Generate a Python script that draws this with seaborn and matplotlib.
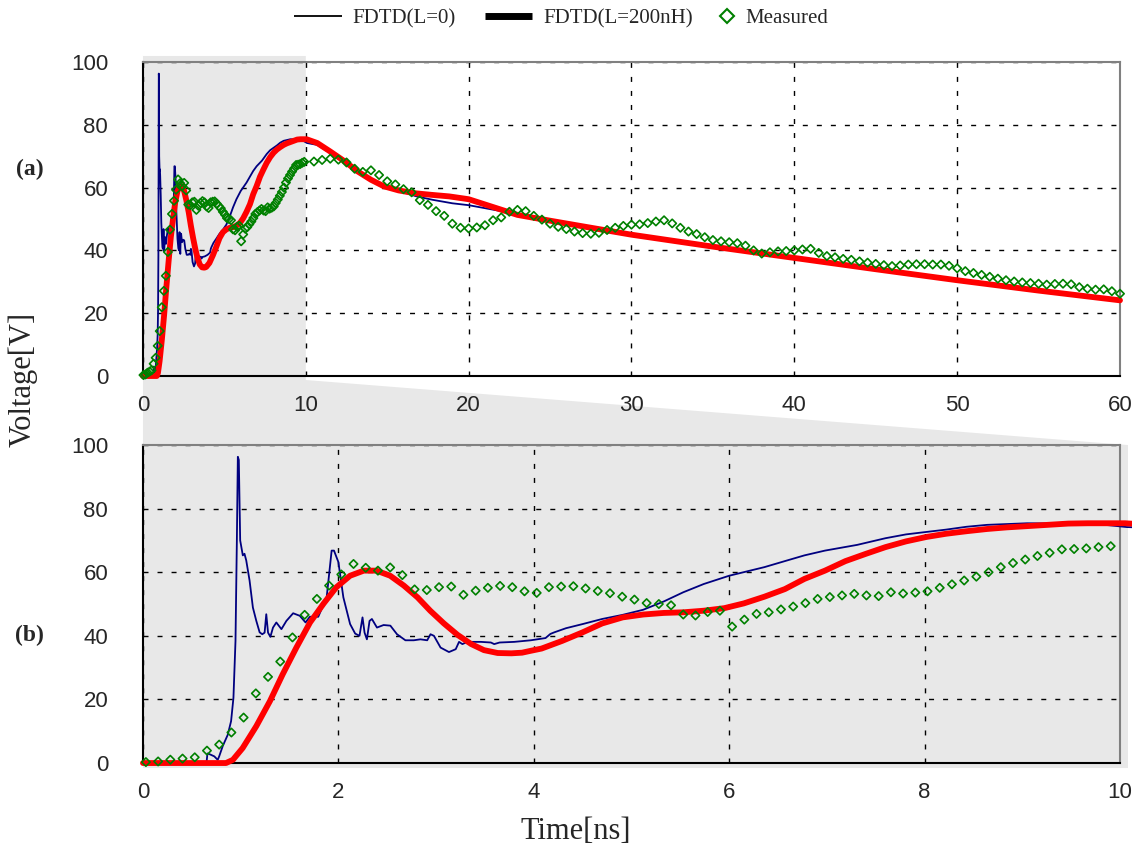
import numpy as np
import pandas as pd
import matplotlib
matplotlib.use("Agg")
import matplotlib.pyplot as plt
from matplotlib.patches import Polygon
from matplotlib.lines import Line2D
import seaborn as sns

# FDTD, L = 0 (thin navy line): time [ns], voltage [V]
fdtd0_t = [0, 0.65, 0.66, 0.68, 0.73, 0.765, 0.78, 0.816, 0.868, 0.902, 0.926, 0.947,
           0.961, 0.971, 0.981, 0.995, 1.022, 1.039, 1.057, 1.091, 1.125, 1.16, 1.194,
           1.221, 1.245, 1.262, 1.28, 1.304, 1.331, 1.365, 1.417, 1.468, 1.537, 1.605,
           1.664, 1.708, 1.794, 1.88, 1.931, 1.955, 2.0, 2.051, 2.12, 2.172, 2.216,
           2.247, 2.268, 2.292, 2.319, 2.343, 2.395, 2.463, 2.532, 2.6, 2.686, 2.772,
           2.84, 2.909, 2.943, 2.978, 3.046, 3.132, 3.201, 3.235, 3.269, 3.321, 3.458,
           3.561, 3.595, 3.65, 3.8, 3.97, 4.12, 4.17, 4.21, 4.33, 4.5, 4.7, 4.91, 5.12,
           5.33, 5.53, 5.74, 6.0, 6.36, 6.57, 6.77, 6.98, 7.31, 7.6, 7.81, 8.0, 8.22,
           8.43, 8.64, 9.05, 9.47, 9.67, 9.88, 10.07, 10.7, 11.5, 12.4, 13.6, 14.8,
           15.7, 16.8, 17.8, 19, 20, 22, 24.4, 27, 30, 35, 40, 45, 50, 55, 60]
fdtd0_v = [0, 0, 3.0, 2.8, 2.1, 1.0, 2.1, 5.3, 8.9, 13.2, 20.5, 38.4,
           70, 96.3, 95.3, 70, 65.3, 65.8, 63.7, 57.4, 48.9, 44.7, 41.1,
           40.5, 41.0, 46.8, 41.0, 39.7, 42.6, 44.2, 42.1, 44.7, 47.1, 46.3,
           44.2, 46.0, 46.0, 52.1, 66.8, 66.8, 63.2, 52.1, 43.7, 40.7, 40.0,
           45.8, 41.0, 38.9, 44.7, 45.3, 42.6, 43.4, 43.2, 40.5, 38.6, 38.6,
           38.9, 38.6, 40.5, 40.0, 36.3, 34.9, 35.8, 38.1, 37.4, 38.1, 38.1,
           37.9, 37.4, 37.9, 38.1, 38.6, 39.3, 40.6, 41.1, 42.4, 43.7, 45.3, 46.6, 48.2,
           50.8, 53.7, 56.3, 58.9, 61.6, 63.5, 65.3, 66.8, 68.6, 70.7, 71.9, 72.6, 73.4,
           74.3, 74.9, 75.4, 75.3, 75.2, 74.8, 74.2, 73.6, 71.0, 67.8, 63.5, 60.4,
           59.0, 57.2, 56.1, 55.0, 54.4, 52.5, 50.5, 47.7, 45.0, 41.0, 37.6, 34.0, 30.5, 27.2, 24.1]

# FDTD, L = 200 nH (thick red line)
fdtd200_t = [0, 0.85, 0.92, 1.02, 1.16, 1.30, 1.43, 1.57, 1.71, 1.85, 1.98, 2.12, 2.26,
             2.39, 2.53, 2.67, 2.81, 2.94, 3.08, 3.22, 3.36, 3.49, 3.63, 3.77, 3.88,
             3.97, 4.08, 4.29, 4.50, 4.70, 4.91, 5.12, 5.33, 5.53, 5.74, 5.95, 6.15,
             6.36, 6.57, 6.77, 6.98, 7.19, 7.40, 7.60, 7.81, 8.02, 8.22, 8.43, 8.64,
             8.84, 9.05, 9.26, 9.47, 9.67, 9.88, 10.05, 10.7, 11.5, 12.4, 13.2, 14.0,
             14.8, 15.7, 16.7, 17.7, 18.8, 20, 21.5, 23.0, 24.4, 27.3, 30, 35, 40, 45,
             50, 55, 60]
fdtd200_v = [0, 0, 1.0, 4.7, 11.6, 19.5, 27.9, 36.3, 44.2, 50.2, 55.3, 58.9, 60.5,
             60.5, 58.9, 55.8, 52.1, 47.9, 43.9, 40.3, 37.4, 35.5, 34.6, 34.5, 34.7,
             35.3, 36.0, 38.4, 41.1, 43.9, 45.8, 46.7, 47.2, 47.4, 47.9, 48.7, 50.2,
             52.3, 54.7, 57.9, 60.5, 63.5, 65.8, 67.9, 69.7, 71.1, 72.1, 72.9, 73.6,
             74.1, 74.5, 74.9, 75.3, 75.4, 75.4, 75.4, 74.2, 71.5, 68.3, 65.1, 62.5,
             60.4, 59.1, 58.2, 57.7, 57.2, 56.3, 53.8, 51.3, 50.0, 47.4, 45.0, 41.2, 37.6, 34.0,
             30.5, 27.2, 24.1]

# Measured: 0.125 ns samples up to 10 ns, 0.5 ns samples after
meas_fine_v = [0.3, 0.5, 1.05, 1.4, 1.8, 3.9, 5.8, 9.6, 14.3, 21.9,
               27.1, 31.9, 39.5, 46.6, 51.6, 55.8, 59.3, 62.6, 61.4, 60.5,
               61.5, 59.1, 54.6, 54.4, 55.3, 55.5, 52.9, 54.2, 55.1, 55.7,
               55.3, 54.0, 53.5, 55.3, 55.5, 55.6, 54.9, 54.1, 53.4, 52.3,
               51.4, 50.3, 50.0, 49.6, 46.7, 46.4, 47.5, 47.9, 42.9, 45.1,
               46.9, 47.4, 48.3, 49.2, 50.3, 51.6, 52.2, 52.7, 53.2, 52.7,
               52.5, 53.7, 53.3, 53.6, 54.0, 55.1, 56.2, 57.4, 58.6, 60.0,
               61.6, 62.9, 64.0, 65.1, 66.1, 67.2, 67.3, 67.5, 67.9, 68.2]
meas_coarse_v = [68.3, 68.8, 69.2, 68.9, 68.0, 66.0, 65.0, 65.5, 64.0,
                 62.0, 61.0, 59.5, 58.5, 56.0, 54.5, 52.5, 51.0, 48.5, 47.2,
                 47.0, 47.3, 48.0, 49.6, 50.5, 52.3, 52.9, 52.5, 51.0, 49.8,
                 48.5, 47.5, 46.8, 46.0, 45.5, 45.3, 45.6, 46.5, 47.2, 47.8,
                 48.2, 48.3, 48.7, 49.2, 49.6, 48.6, 47.2, 46.0, 45.2, 44.2,
                 43.3, 42.9, 42.6, 42.3, 41.5, 40.0, 39.0, 39.4, 39.7, 39.8,
                 40.0, 40.3, 40.5, 39.2, 38.2, 37.8, 37.3, 37.0, 36.5, 36.1,
                 35.7, 35.3, 35.0, 35.2, 35.5, 35.6, 35.6, 35.5, 35.5, 35.1,
                 34.3, 33.4, 32.8, 32.2, 31.6, 31.0, 30.5, 30.1, 29.8, 29.6,
                 29.4, 29.1, 29.3, 29.4, 29.2, 28.3, 27.8, 27.5, 27.6, 27.0, 26.2]
meas_t = np.concatenate([0.03 + 0.125 * np.arange(len(meas_fine_v)),
                         10.5 + 0.5 * np.arange(len(meas_coarse_v))])
meas_v = meas_fine_v + meas_coarse_v

df0 = pd.DataFrame({"t": fdtd0_t, "v": fdtd0_v})
df200 = pd.DataFrame({"t": fdtd200_t, "v": fdtd200_v})
dfm = pd.DataFrame({"t": meas_t, "v": meas_v})

sns.set_theme(style="white")
plt.rcParams["font.family"] = ["Liberation Sans", "DejaVu Sans"]

fig = plt.figure(figsize=(11.32, 8.48), dpi=100)
ax1 = fig.add_axes([0.1263, 0.5566, 0.8631, 0.3703])
ax2 = fig.add_axes([0.1263, 0.1002, 0.8631, 0.3750])

navy, red, green = "#000080", "#ff0000", "#008000"
for ax, xmax, xstep in [(ax1, 60, 10), (ax2, 10, 2)]:
    ax.set_facecolor("none")
    sns.lineplot(data=df0, x="t", y="v", ax=ax, color=navy, lw=1.3,
                 sort=False, estimator=None, zorder=3, clip_on=False)
    sns.lineplot(data=df200, x="t", y="v", ax=ax, color=red, lw=4.2,
                 sort=False, estimator=None, zorder=4, clip_on=False)
    sub = dfm[dfm["t"] <= xmax]
    sns.scatterplot(data=sub, x="t", y="v", ax=ax, marker="D", s=18,
                    color=green, facecolor="none", edgecolor=green,
                    linewidth=1.2, zorder=5, clip_on=False)
    ax.set_xlim(0, xmax)
    ax.set_ylim(0, 100)
    ax.set_xticks(np.arange(0, xmax + 1, xstep))
    ax.set_yticks(np.arange(0, 101, 20))
    ax.set_xlabel("")
    ax.set_ylabel("")
    ax.grid(True, color="black", lw=1.0, linestyle=(0, (3.6, 6.5)))
    ax.tick_params(axis="x", length=0, pad=14, labelsize=16)
    ax.tick_params(axis="y", length=0, pad=25, labelsize=16)
    for side in ["left", "bottom"]:
        ax.spines[side].set_color("black")
        ax.spines[side].set_linewidth(1.5)
    for side in ["top", "right"]:
        ax.spines[side].set_color("#808080")
        ax.spines[side].set_linewidth(1.5)

# gray zoom region: 0-10 ns in (a) expanding into the whole of (b)
fig.canvas.draw()
to_fig = fig.transFigure.inverted()
x0, y1t = ax1.transData.transform((0, 100))
x10, y1b = ax1.transData.transform((10, 0))
x2r, y2t = ax2.transData.transform((10, 100))
_, y2b = ax2.transData.transform((0, 0))
pts = [(x0, y1t + 6), (x10, y1t + 6), (x10, y1b - 4),
       (x2r + 8, y2t), (x2r + 8, y2b - 5), (x0, y2b - 5)]
poly = Polygon(to_fig.transform(pts), closed=True, transform=fig.transFigure,
               facecolor="#e8e8e8", edgecolor="none", zorder=-1)
fig.patches.append(poly)

# legend: two line entries, then the measured diamond close to its text
serif = ["Liberation Serif", "DejaVu Serif"]
line_handles = [Line2D([], [], color="black", lw=1.3, solid_capstyle="butt"),
                Line2D([], [], color="black", lw=5, solid_capstyle="butt")]
fig.legend(line_handles, ["FDTD(L=0)", "FDTD(L=200nH)"], loc="upper left",
           bbox_to_anchor=(0.243, 1.012), ncol=2, frameon=False,
           handlelength=2.3, columnspacing=1.4, handletextpad=0.5,
           prop={"family": serif, "size": 15})
meas_handle = [Line2D([], [], marker="D", ls="none", mfc="none", mec=green, mew=1.5, ms=7)]
fig.legend(meas_handle, ["Measured"], loc="upper left", bbox_to_anchor=(0.618, 1.012),
           frameon=False, handlelength=0.8, handletextpad=0.5,
           prop={"family": serif, "size": 15})

fig.text(0.0205, 0.552, "Voltage[V]", rotation=90, ha="center", va="center",
         family=serif, fontsize=22)
fig.text(0.509, 0.02, "Time[ns]", ha="center", va="center", family=serif, fontsize=22)
fig.text(0.026, 0.80, "(a)", ha="center", va="center", family=serif,
         fontsize=17, fontweight="bold")
fig.text(0.026, 0.251, "(b)", ha="center", va="center", family=serif,
         fontsize=17, fontweight="bold")

fig.savefig("out.png", dpi=100)
